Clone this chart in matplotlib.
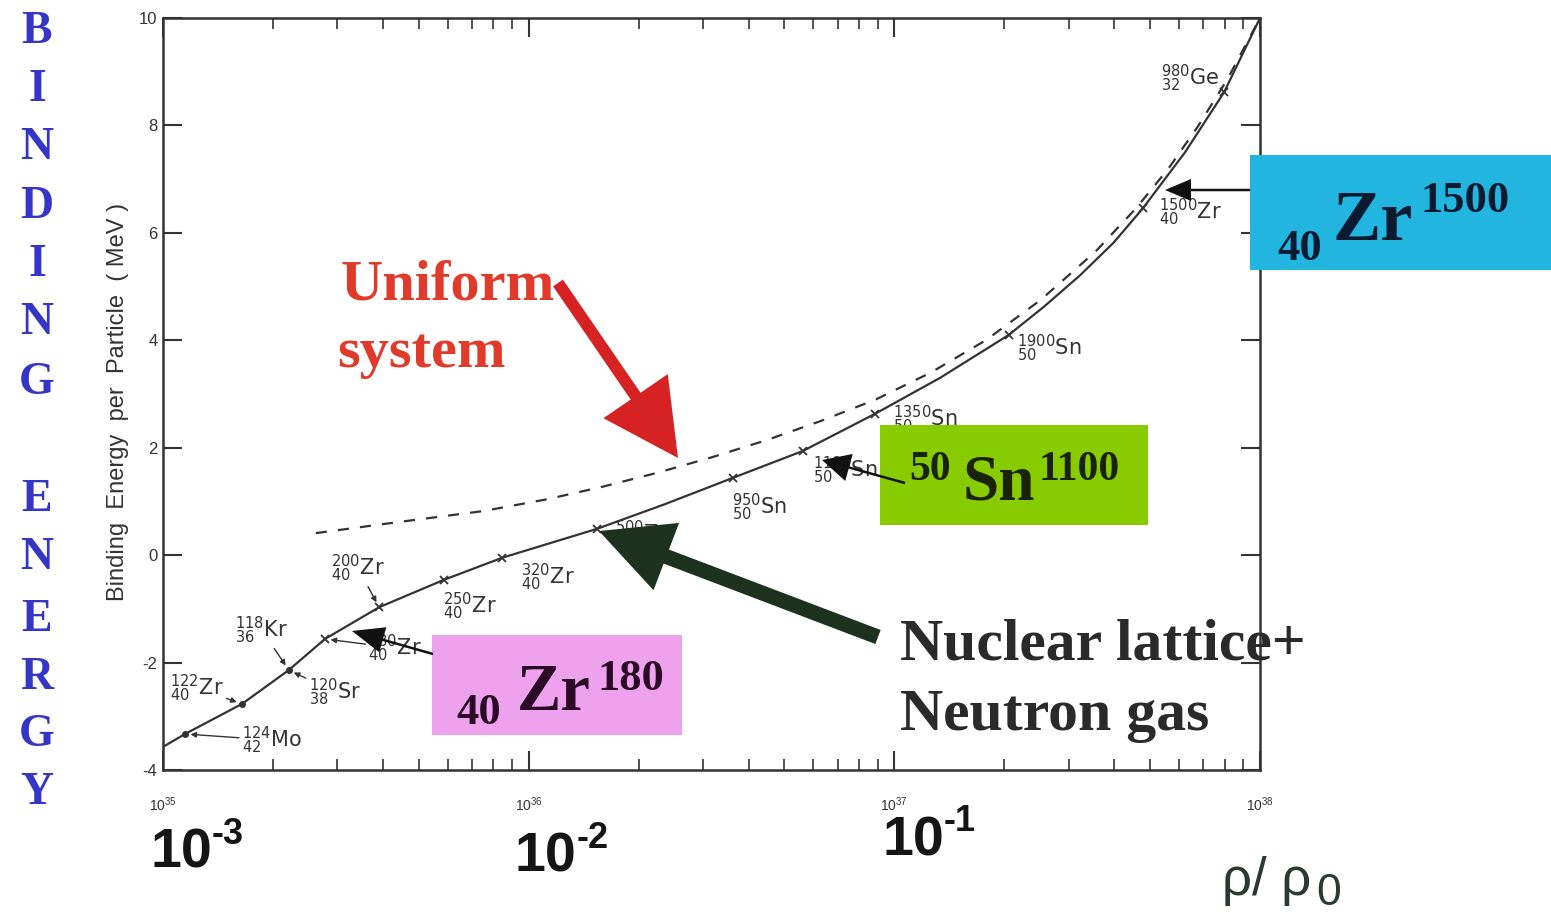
import numpy as np
import matplotlib
matplotlib.use("Agg")
import matplotlib.pyplot as plt
from matplotlib.patches import FancyArrow, Rectangle
from matplotlib.ticker import LogLocator, MultipleLocator, NullLocator

W, H = 1551, 915

# lattice + neutron gas (solid), log10 of density vs MeV per particle
lattice_logrho = [35.0, 35.06, 35.216, 35.344, 35.443, 35.591, 35.768, 35.927, 36.187, 36.373,
                  36.559, 36.75, 36.947, 37.125, 37.313, 37.41, 37.508, 37.6, 37.68, 37.795, 37.902, 38.0]
lattice_energy = [-3.57, -3.33, -2.77, -2.14, -1.56, -0.97, -0.46, -0.05, 0.49, 0.95,
                  1.44, 1.94, 2.63, 3.30, 4.10, 4.63, 5.21, 5.82, 6.46, 7.50, 8.62, 10.0]

# uniform system (dashed)
uniform_logrho = [35.418, 35.648, 35.875, 36.05, 36.2, 36.35, 36.5, 36.65, 36.8, 36.95,
                  37.1, 37.25, 37.4, 37.55, 37.66, 37.75, 37.83, 37.91, 38.0]
uniform_energy = [0.41, 0.62, 0.82, 1.04, 1.27, 1.53, 1.82, 2.14, 2.5, 2.9,
                  3.4, 4.0, 4.75, 5.65, 6.45, 7.2, 7.98, 8.85, 10.0]

# nuclides marked on the lattice curve
nuc_A = [124, 122, 120, 118, 180, 200, 250, 320, 500, 950, 1100, 1350, 1900, 1500, 980]
nuc_Z = [42, 40, 38, 36, 40, 40, 40, 40, 40, 50, 50, 50, 50, 40, 32]
nuc_sym = ["Mo", "Zr", "Sr", "Kr", "Zr", "Zr", "Zr", "Zr", "Zr", "Sn", "Sn", "Sn", "Sn", "Zr", "Ge"]
nuc_logrho = [35.06, 35.216, 35.344, 35.344, 35.443, 35.591, 35.768, 35.927, 36.187,
              36.559, 36.75, 36.947, 37.313, 37.68, 37.902]
nuc_energy = [-3.33, -2.77, -2.14, -2.14, -1.56, -0.97, -0.46, -0.05, 0.49,
              1.44, 1.94, 2.63, 4.10, 6.46, 8.62]
nuc_marker = ["o", "o", "o", "", "x", "x", "x", "x", "x", "x", "x", "x", "x", "x", "x"]

# label layout: pixel offsets from the point, and whether a small arrow is drawn
label_dx = [87, -45, 46, -27, 70, -21, 26, 46, 45, 27, 42, 50, 41, 47, -34]
label_dy = [-6, 16, -22, 40, -9, 39, -27, -20, -6, -30, -19, -6, -13, -4, 14]
label_arrow = [True, True, True, True, True, True, False, False, False, False, False, False, False, False, False]

big_ticks = ["10", "10", "10"]
big_exps = ["-3", "-2", "-1"]

ink = "#333333"
plt.rcParams["axes.unicode_minus"] = False
plt.rcParams["font.family"] = ["Liberation Sans", "DejaVu Sans"]
plt.rcParams["mathtext.fontset"] = "dejavusans"

fig = plt.figure(figsize=(W / 100, H / 100), dpi=100)
ax = fig.add_axes([163 / W, 1 - 770 / H, (1260 - 163) / W, (770 - 18) / H])

ax.plot(np.power(10.0, lattice_logrho), lattice_energy, color=ink, lw=1.6)
ax.plot(np.power(10.0, uniform_logrho), uniform_energy, color=ink, lw=1.6, dashes=(5, 5))

rho_n = np.power(10.0, nuc_logrho)
for r, e, m in zip(rho_n, nuc_energy, nuc_marker):
    if m == "o":
        ax.plot(r, e, "o", color=ink, ms=4)
    elif m == "x":
        ax.plot(r, e, "x", color=ink, ms=6, mew=1.3)

for i in range(len(nuc_A)):
    txt = r"${}^{%d}_{%d}\mathrm{%s}$" % (nuc_A[i], nuc_Z[i], nuc_sym[i])
    props = None
    if label_arrow[i]:
        props = dict(arrowstyle="-|>", color=ink, lw=1.0, mutation_scale=8, shrinkA=0, shrinkB=4)
    ax.annotate(txt, xy=(rho_n[i], nuc_energy[i]), xytext=(label_dx[i], label_dy[i]),
                textcoords="offset pixels", ha="center", va="center", fontsize=15,
                color=ink, arrowprops=props)

ax.set_xscale("log")
ax.set_xlim(1e35, 1e38)
ax.set_ylim(-4, 10)
ax.xaxis.set_major_locator(LogLocator(base=10, numticks=10))
ax.xaxis.set_minor_locator(LogLocator(base=10, subs=np.arange(2, 10), numticks=40))
ax.yaxis.set_major_locator(MultipleLocator(2))
ax.yaxis.set_minor_locator(NullLocator())
ax.tick_params(which="both", direction="in", top=True, right=True, color=ink, labelcolor=ink)
ax.tick_params(which="major", length=14, width=1.5)
ax.tick_params(which="minor", length=8, width=1.2)
ax.tick_params(axis="x", which="major", pad=18, labelsize=10)
ax.tick_params(axis="y", labelsize=12, pad=4)
for s in ax.spines.values():
    s.set_color(ink)
    s.set_linewidth(1.8)

fig.text(118 / W, 1 - 402 / H, "Binding  Energy  per  Particle  ( MeV )", rotation=90,
         ha="center", va="center", fontsize=17, color=ink)

# slide overlay drawn in pixel coordinates
ov = fig.add_axes([0, 0, 1, 1], zorder=10)
ov.set_xlim(0, W)
ov.set_ylim(H, 0)
ov.axis("off")

serif = ["Liberation Serif", "DejaVu Serif"]

letters = ["B", "I", "N", "D", "I", "N", "G", "E", "N", "E", "R", "G", "Y"]
letter_y = [32, 90, 148, 207, 265, 323, 383, 500, 558, 620, 678, 735, 793]
for ch, yy in zip(letters, letter_y):
    ov.text(37, yy, ch, ha="center", va="center", fontsize=33, fontweight="bold",
            family=serif, color="#3535c8")

# big density ratio labels
for t, ex, (x0, yb) in zip(big_ticks, big_exps, [(150, 868), (515, 872), (882, 855)]):
    ov.text(x0, yb, t, ha="left", va="baseline", fontsize=40, fontweight="bold", color="#151515")
    ov.text(x0 + 62, yb - 24, ex, ha="left", va="baseline", fontsize=26, fontweight="bold", color="#151515")

ov.text(1222, 895, "ρ/ ρ", ha="left", va="baseline", fontsize=38, color="#2a3a30")
ov.text(1316, 905, "0", ha="left", va="baseline", fontsize=32, color="#2a3a30")

# uniform system
ov.text(340, 300, "Uniform", ha="left", va="baseline", fontsize=42, fontweight="bold",
        family=serif, color="#e03a2a")
ov.text(337, 367, "system", ha="left", va="baseline", fontsize=42, fontweight="bold",
        family=serif, color="#e03a2a")
ov.add_patch(FancyArrow(558, 283, 678 - 558, 458 - 283, width=12, head_width=78, head_length=75,
                        length_includes_head=True, color="#d62222", lw=0))

# lattice + neutron gas
ov.add_patch(FancyArrow(878, 637, 599 - 878, 531 - 637, width=15, head_width=72, head_length=72,
                        length_includes_head=True, color="#1c321e", lw=0))
ov.text(900, 660, "Nuclear lattice+", ha="left", va="baseline", fontsize=43, fontweight="bold",
        family=serif, color="#2a2a2a")
ov.text(900, 730, "Neutron gas", ha="left", va="baseline", fontsize=43, fontweight="bold",
        family=serif, color="#2a2a2a")

# coloured boxes
ov.add_patch(Rectangle((432, 635), 250, 100, color="#eea2ee", lw=0))
ov.text(456, 724, "40", ha="left", va="baseline", fontsize=32, fontweight="bold", family=serif, color="#2a0a24")
ov.text(517, 710, "Zr", ha="left", va="baseline", fontsize=48, fontweight="bold", family=serif, color="#2a0a24")
ov.text(597, 690, "180", ha="left", va="baseline", fontsize=32, fontweight="bold", family=serif, color="#2a0a24")
ov.add_patch(FancyArrow(433, 654, 352 - 433, 631 - 654, width=2.5, head_width=26, head_length=32,
                        length_includes_head=True, color="#111111", lw=0))

ov.add_patch(Rectangle((880, 425), 268, 100, color="#88cc00", lw=0))
ov.text(909, 480, "50", ha="left", va="baseline", fontsize=30, fontweight="bold", family=serif, color="#1a220a")
ov.text(962, 500, "Sn", ha="left", va="baseline", fontsize=47, fontweight="bold", family=serif, color="#1a220a")
ov.text(1039, 480, "1100", ha="left", va="baseline", fontsize=30, fontweight="bold", family=serif, color="#1a220a")
ov.add_patch(FancyArrow(905, 483, 822 - 905, 460 - 483, width=2.5, head_width=28, head_length=28,
                        length_includes_head=True, color="#111111", lw=0))

ov.add_patch(Rectangle((1250, 155), 301, 115, color="#22b5e0", lw=0))
ov.text(1277, 260, "40", ha="left", va="baseline", fontsize=32, fontweight="bold", family=serif, color="#0a1a30")
ov.text(1333, 240, "Zr", ha="left", va="baseline", fontsize=52, fontweight="bold", family=serif, color="#0a1a30")
ov.text(1420, 212, "1500", ha="left", va="baseline", fontsize=32, fontweight="bold", family=serif, color="#0a1a30")
ov.add_patch(FancyArrow(1250, 190, 1165 - 1250, 0, width=2.5, head_width=22, head_length=26,
                        length_includes_head=True, color="#111111", lw=0))

fig.savefig("out.png", dpi=100, facecolor="white")
